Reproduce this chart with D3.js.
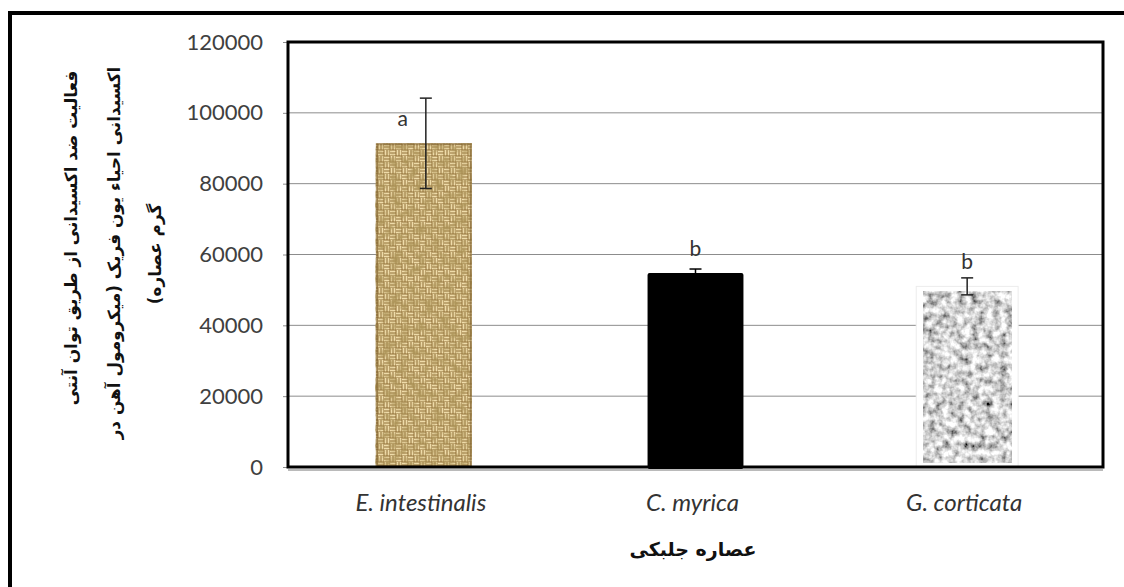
<!DOCTYPE html>
<html>
<head>
<meta charset="utf-8">
<script src="https://cdn.jsdelivr.net/npm/d3@7"></script>
<style>
  html, body { margin: 0; padding: 0; background: #fff; }
  svg { display: block; }
</style>
</head>
<body>
<svg id="chart" width="1124" height="587"></svg>
<script>
// ---- data ----
const categories = ["E. intestinalis", "C. myrica", "G. corticata"];
const values = [91400, 54800, 51000];
const errors = [12750, 1100, 2400];
const letters = ["a", "b", "b"];
const yTicks = [0, 20000, 40000, 60000, 80000, 100000, 120000];
const yTitleLines = [
  "فعالیت ضد اکسیدانی از طریق توان آنتی",
  "اکسیدانی  احیاء یون فریک (میکرومول آهن در",
  "گرم عصاره)"
];
const xTitle = "عصاره جلبکی";

// ---- layout ----
const W = 1124, H = 587;
const plot = { left: 288, right: 1103, top: 42, bottom: 467 };

const svg = d3.select("#chart");
const defs = svg.append("defs");

// burlap weave pattern
const burlap = defs.append("pattern").attr("id", "burlap")
  .attr("patternUnits", "userSpaceOnUse").attr("width", 12).attr("height", 12);
burlap.append("rect").attr("width", 12).attr("height", 12).attr("fill", "#8e6c33");
const light = "#efdcaa";
[[0,0,"h"],[6,0,"v"],[0,6,"v"],[6,6,"h"]].forEach(([qx,qy,o]) => {
  if (o === "h") {
    burlap.append("rect").attr("x", qx).attr("y", qy+0.5).attr("width", 5.5).attr("height", 2).attr("fill", light);
    burlap.append("rect").attr("x", qx).attr("y", qy+3.5).attr("width", 5.5).attr("height", 2).attr("fill", light);
  } else {
    burlap.append("rect").attr("x", qx+0.5).attr("y", qy).attr("width", 2).attr("height", 5.5).attr("fill", light);
    burlap.append("rect").attr("x", qx+3.5).attr("y", qy).attr("width", 2).attr("height", 5.5).attr("fill", light);
  }
});

// mottling filter for burlap
const mot = defs.append("filter").attr("id", "mottle")
  .attr("x", 0).attr("y", 0).attr("width", "100%").attr("height", "100%");
mot.append("feTurbulence").attr("type", "fractalNoise").attr("baseFrequency", "0.12")
  .attr("numOctaves", 3).attr("seed", 7).attr("result", "n");
mot.append("feColorMatrix").attr("in", "n").attr("type", "matrix")
  .attr("values", "0 0 0 0 0.42  0 0 0 0 0.30  0 0 0 0 0.10  2.0 0 0 0 -0.75");

// granite filter
const gran = defs.append("filter").attr("id", "granite")
  .attr("x", 0).attr("y", 0).attr("width", "100%").attr("height", "100%");
gran.append("feTurbulence").attr("type", "fractalNoise").attr("baseFrequency", "0.14")
  .attr("numOctaves", 3).attr("seed", 3).attr("result", "n");
gran.append("feColorMatrix").attr("in", "n").attr("type", "matrix")
  .attr("values", "1.7 0 0 0 -0.2  1.7 0 0 0 -0.2  1.7 0 0 0 -0.2  0 0 0 0 1");

// outer frame (cropped at right / bottom)
svg.append("rect").attr("x", 10).attr("y", 13).attr("width", 1300).attr("height", 800)
  .attr("fill", "none").attr("stroke", "#000").attr("stroke-width", 4);

// scales
const y = d3.scaleLinear().domain([0, 120000]).range([plot.bottom, plot.top]);
const x = d3.scaleBand().domain(categories).range([plot.left, plot.right])
  .paddingInner(0.647).paddingOuter(0.3235);

// gridlines
svg.append("g").selectAll("line").data(yTicks.filter(d => d > 0 && d < 120000)).join("line")
  .attr("x1", plot.left).attr("x2", plot.right)
  .attr("y1", d => y(d)).attr("y2", d => y(d))
  .attr("stroke", "#8c8c8c").attr("stroke-width", 1);

// y axis (ticks + labels)
const yAxis = d3.axisLeft(y).tickValues(yTicks).tickSize(5).tickPadding(20)
  .tickFormat(d3.format("d"));
const gy = svg.append("g").attr("transform", `translate(${plot.left},0)`).call(yAxis);
gy.select(".domain").remove();
gy.selectAll(".tick line").attr("stroke", "#8c8c8c");
gy.selectAll(".tick text").attr("font-family", "Lato, 'Open Sans', sans-serif")
  .attr("font-size", 22).attr("fill", "#404040");

// bars
const bw = x.bandwidth();
categories.forEach((c, i) => {
  const bx = x(c), by = y(values[i]), bh = y(0) - y(values[i]);
  if (i === 0) {
    svg.append("rect").attr("x", bx).attr("y", by).attr("width", bw).attr("height", bh)
      .attr("fill", "url(#burlap)");
    svg.append("rect").attr("x", bx).attr("y", by).attr("width", bw).attr("height", bh)
      .attr("filter", "url(#mottle)");
    svg.append("rect").attr("x", bx + 1).attr("y", by + 1).attr("width", bw - 2).attr("height", bh - 2)
      .attr("fill", "none").attr("stroke", "#6e4f1e").attr("stroke-opacity", 0.45).attr("stroke-width", 2);
  } else if (i === 1) {
    svg.append("rect").attr("x", bx).attr("y", by).attr("width", bw).attr("height", bh + 2)
      .attr("rx", 2).attr("fill", "#000");
  } else {
    svg.append("rect").attr("x", bx - 3).attr("y", by).attr("width", bw + 6).attr("height", bh)
      .attr("fill", "#fff").attr("stroke", "#ececec").attr("stroke-width", 1);
    svg.append("rect").attr("x", bx + 4).attr("y", by + 5).attr("width", bw - 8).attr("height", bh - 9)
      .attr("fill", "#999").attr("filter", "url(#granite)");
  }
});

// plot frame
svg.append("rect").attr("x", plot.left).attr("y", plot.top)
  .attr("width", plot.right - plot.left).attr("height", plot.bottom - plot.top)
  .attr("fill", "none").attr("stroke", "#000").attr("stroke-width", 3);
svg.append("line").attr("x1", plot.left).attr("x2", plot.right)
  .attr("y1", plot.bottom + 3).attr("y2", plot.bottom + 3)
  .attr("stroke", "#777").attr("stroke-width", 1);

// error bars
const cap = 6;
categories.forEach((c, i) => {
  const cx = x(c) + bw / 2 + (i === 0 ? 2 : 0);
  const hi = y(values[i] + errors[i]), lo = y(values[i] - errors[i]);
  const col = i === 1 ? "#000" : "#222";
  const g = svg.append("g").attr("stroke", col).attr("stroke-width", 1.5);
  g.append("line").attr("x1", cx).attr("x2", cx).attr("y1", hi).attr("y2", lo);
  g.append("line").attr("x1", cx - cap).attr("x2", cx + cap).attr("y1", hi).attr("y2", hi);
  g.append("line").attr("x1", cx - cap).attr("x2", cx + cap).attr("y1", lo).attr("y2", lo);
});

// significance letters
categories.forEach((c, i) => {
  const cx = x(c) + bw / 2 - (i === 0 ? 21 : 0);
  svg.append("text").attr("x", cx).attr("y", y(values[i]) - 17)
    .attr("text-anchor", "middle").attr("font-family", "Lato, 'Open Sans', sans-serif")
    .attr("font-size", 21).attr("fill", "#333").text(letters[i]);
});

// category labels
svg.append("g").selectAll("text").data(categories).join("text")
  .attr("x", d => x(d) + bw / 2 - 3).attr("y", 511)
  .attr("text-anchor", "middle").attr("font-family", "Lato, 'Open Sans', sans-serif")
  .attr("font-style", "italic").attr("font-size", 24).attr("fill", "#333")
  .text(d => d);

// x title
svg.append("text").attr("x", 693).attr("y", 556).attr("text-anchor", "middle")
  .attr("direction", "rtl")
  .attr("font-family", "'DejaVu Sans', sans-serif").attr("font-weight", "bold")
  .attr("font-size", 19).attr("fill", "#111").text(xTitle);

// y title (rotated), one common size fitted to the first line
const lineX = [77, 120, 161];
const lineY = [238, 253, 254];
const tEls = yTitleLines.map((t, i) =>
  svg.append("text").attr("transform", `translate(${lineX[i]},${lineY[i]}) rotate(-90)`)
    .attr("text-anchor", "middle").attr("direction", "rtl")
    .attr("font-family", "'DejaVu Sans', sans-serif").attr("font-weight", "bold")
    .attr("font-size", 16).attr("fill", "#111").text(t));
const len0 = tEls[0].node().getComputedTextLength();
if (len0 > 0) {
  const fs = Math.min(22, 16 * 335 / len0);
  tEls.forEach(e => e.attr("font-size", fs));
}
</script>
</body>
</html>
